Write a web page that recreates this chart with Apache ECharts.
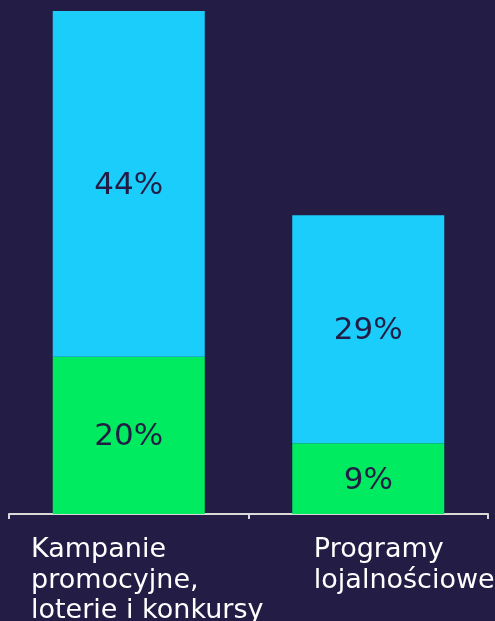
<!DOCTYPE html>
<html>
<head>
<meta charset="utf-8">
<script src="https://cdn.jsdelivr.net/npm/echarts@6/dist/echarts.min.js"></script>
<style>html,body{margin:0;padding:0;background:#231d46;}#c{width:495px;height:621px;}</style>
</head>
<body>
<div id="c"></div>
<script>
const categories = ['Kampanie\npromocyjne,\nloterie i konkursy', 'Programy\nlojalnościowe'];
const greenValues = [20, 9];
const cyanValues = [44, 29];
const labelPads = [37, 72];

const BG = '#231d46';
const chart = echarts.init(document.getElementById('c'));
chart.setOption({
  backgroundColor: BG,
  animation: false,
  grid: { left: 9, right: 7, top: 11, bottom: 107, containLabel: false, outerBoundsMode: 'none' },
  xAxis: {
    type: 'category',
    data: categories,
    axisLine: { lineStyle: { color: '#d9d9d9', width: 2 } },
    axisTick: { show: true, length: 5, lineStyle: { color: '#d9d9d9', width: 2 } },
    axisLabel: {
      interval: 0,
      margin: 21,
      align: 'center',
      formatter: function (v, i) {
        const key = 'p' + i;
        return v.split('\n').map(l => '{' + key + '|' + l + '}').join('\n');
      },
      rich: {
        p0: { color: '#ffffff', fontFamily: 'DejaVu Sans', fontSize: 27, lineHeight: 30.5, align: 'left', padding: [0, 0, 0, labelPads[0]] },
        p1: { color: '#ffffff', fontFamily: 'DejaVu Sans', fontSize: 27, lineHeight: 30.5, align: 'left', padding: [0, 0, 0, labelPads[1]] }
      }
    }
  },
  yAxis: { type: 'value', min: 0, max: 64, show: false, splitLine: { show: false } },
  series: [
    {
      type: 'bar', stack: 's', data: greenValues, barWidth: 152,
      itemStyle: { color: '#00eb5f' },
      label: { show: true, position: 'inside', offset: [0, 2], formatter: '{c}%', color: BG, fontFamily: 'DejaVu Sans', fontSize: 31 }
    },
    {
      type: 'bar', stack: 's', data: cyanValues, barWidth: 152,
      itemStyle: { color: '#1bcdfb' },
      label: { show: true, position: 'inside', offset: [0, 2], formatter: '{c}%', color: BG, fontFamily: 'DejaVu Sans', fontSize: 31 }
    }
  ]
});
</script>
</body>
</html>
